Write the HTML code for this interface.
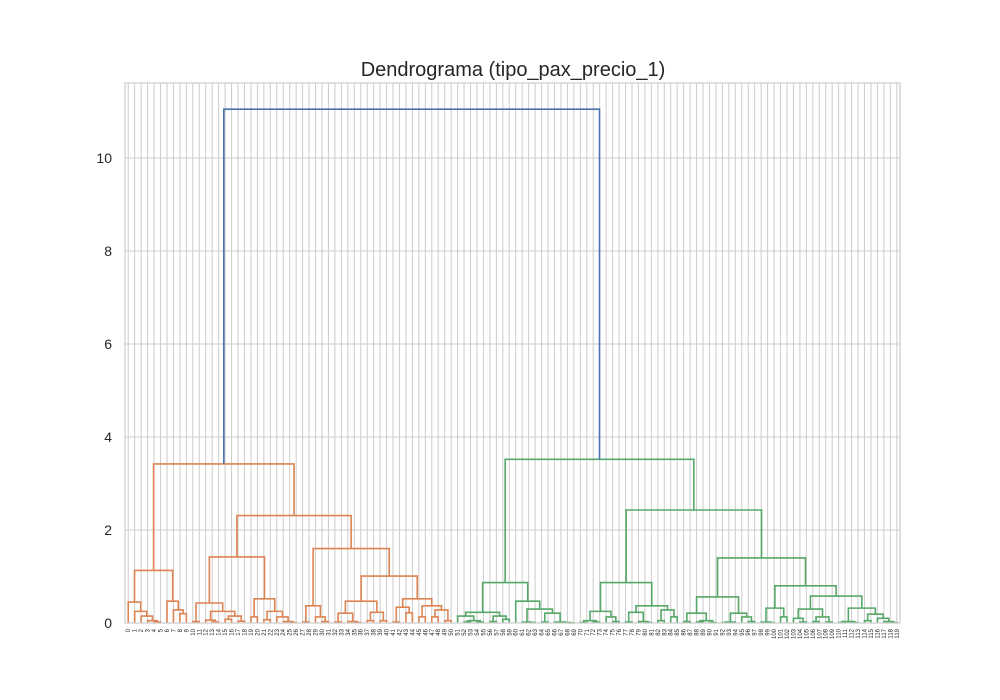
<!DOCTYPE html>
<html><head><meta charset="utf-8">
<style>
html,body{margin:0;padding:0;background:#fff;}
svg{display:block;font-family:"Liberation Sans",sans-serif;}
</style></head>
<body>
<svg id="chart" width="1000" height="700" viewBox="0 0 1000 700">
  <rect x="0" y="0" width="1000" height="700" fill="#fff"/>
  <g id="grid"></g>
  <g id="links"></g>
  <g id="axes"></g>
  <text x="513" y="76" text-anchor="middle" font-size="20" fill="#262626">Dendrograma (tipo_pax_precio_1)</text>
</svg>
<script>
// Tree data: [height, left, right]; leaves are leaf labels.
const orangeTree = [3.42,
  [1.13,
    [0.45, 0, [0.25, 1, [0.15, 2, [0.05, 3, [0.02, 4, 5]]]]],
    [0.47, 6, [0.28, 7, [0.2, 8, 9]]]],
  [2.31,
    [1.42,
      [0.43, [0.03, 10, 11], [0.25, [0.06, 12, [0.02, 13, 14]], [0.15, [0.08, 15, 16], [0.04, 17, 18]]]],
      [0.52, [0.13, 19, 20], [0.25, [0.07, 21, 22], [0.13, 23, [0.03, 24, [0.01, 25, 26]]]]]],
    [1.6,
      [0.37, [0.02, 27, 28], [0.13, 29, [0.03, 30, 31]]],
      [1.01,
        [0.47, [0.21, [0.02, 32, 33], [0.03, 34, [0.01, 35, 36]]], [0.23, [0.05, 37, 38], [0.05, 39, 40]]],
        [0.52, [0.34, [0.02, 41, 42], [0.22, 43, 44]], [0.37, [0.13, 45, 46], [0.28, [0.13, 47, 48], [0.05, 49, 50]]]]]]]];
const greenTree = [3.52,
  [0.87,
    [0.23, [0.15, 51, [0.05, [0.02, 52, 53], [0.02, 54, 55]]], [0.15, [0.03, 56, 57], [0.08, 58, 59]]],
    [0.47, 60, [0.3, [0.02, 61, [0.01, 62, 63]], [0.21, [0.02, 64, 65], [0.02, 66, [0.01, 67, [0.005, 68, 69]]]]]]],
  [2.43,
    [0.87,
      [0.25, [0.05, [0.01, 70, 71], [0.02, 72, 73]], [0.13, 74, [0.03, 75, 76]]],
      [0.37, [0.23, [0.02, 77, 78], [0.03, 79, [0.01, 80, 81]]], [0.28, [0.05, 82, 83], [0.13, 84, 85]]]],
    [1.4,
      [0.56, [0.21, [0.03, 86, 87], [0.05, [0.02, 88, 89], [0.01, 90, 91]]], [0.21, [0.02, [0.01, 92, 93], 94], [0.13, 95, [0.03, 96, 97]]]],
      [0.8,
        [0.32, [0.02, 98, [0.01, 99, 100]], [0.13, 101, 102]],
        [0.58,
          [0.3, [0.1, 103, [0.02, 104, 105]], [0.13, [0.03, 106, 107], [0.02, 108, 109]]],
          [0.32, [0.03, [0.01, 110, 111], [0.01, 112, 113]], [0.19, [0.05, 114, 115], [0.1, 116, [0.03, 117, [0.01, 118, 119]]]]]]]]]];
const rootHeight = 11.05;
const yTicks = [0, 2, 4, 6, 8, 10];
const leafCount = 120;
const seriesColors = ["#dd8452", "#55a868", "#4c72b0"];

const NS = "http://www.w3.org/2000/svg";
const X0 = 125, X1 = 900, Y0 = 623, YT = 83;
const yScale = h => Y0 - h * 46.5;
const xScale = i => X0 + (X1 - X0) / leafCount * (i + 0.5);
function mk(tag, attrs, parent) {
  const e = document.createElementNS(NS, tag);
  for (const k in attrs) e.setAttribute(k, attrs[k]);
  parent.appendChild(e);
  return e;
}
const grid = document.getElementById('grid');
const links = document.getElementById('links');
const axes = document.getElementById('axes');

const leafOrder = [];
function collect(n) { if (typeof n === 'number') leafOrder.push(n); else { collect(n[1]); collect(n[2]); } }
collect(orangeTree); collect(greenTree);
leafOrder.forEach((lab, i) => {
  const x = xScale(i);
  const gl = mk('line', {x1: x, x2: x, y1: YT, y2: Y0, stroke: '#cccccc', 'stroke-width': 1}, grid);
  
  
  const t = mk('text', {x: 0, y: 0, 'font-size': 6, fill: '#262626', 'text-anchor': 'end', transform: `translate(${x + 2},${Y0 + 6}) rotate(-90)`}, axes);
  t.textContent = lab;
  
  
});
yTicks.forEach(v => {
  const y = yScale(v);
  const gl = mk('line', {x1: X0, x2: X1, y1: y, y2: y, stroke: '#cccccc', 'stroke-width': 1}, grid);
  
  
  const t = mk('text', {x: X0 - 13, y: y + 5, 'font-size': 14, fill: '#262626', 'text-anchor': 'end'}, axes);
  t.textContent = v;
  
  
});
const frame = mk('rect', {x: X0, y: YT, width: X1 - X0, height: Y0 - YT, fill: 'none', stroke: '#cccccc', 'stroke-width': 1.2}, axes);



let counter = 0;
function draw(n, color) {
  if (typeof n === 'number') { const x = xScale(counter++); return {x: x, h: 0}; }
  const a = draw(n[1], color), b = draw(n[2], color);
  const yh = yScale(n[0]);
  const p = mk('path', {d: `M${a.x},${yScale(a.h)}V${yh}H${b.x}V${yScale(b.h)}`, fill: 'none', stroke: color, 'stroke-width': 1.6}, links);
  
  
  return {x: (a.x + b.x) / 2, h: n[0]};
}
const o = draw(orangeTree, seriesColors[0]);
const g = draw(greenTree, seriesColors[1]);
const ry = yScale(rootHeight);
const rp = mk('path', {d: `M${o.x},${yScale(o.h)}V${ry}H${g.x}V${yScale(g.h)}`, fill: 'none', stroke: seriesColors[2], 'stroke-width': 1.6}, links);


</script>
</body></html>
